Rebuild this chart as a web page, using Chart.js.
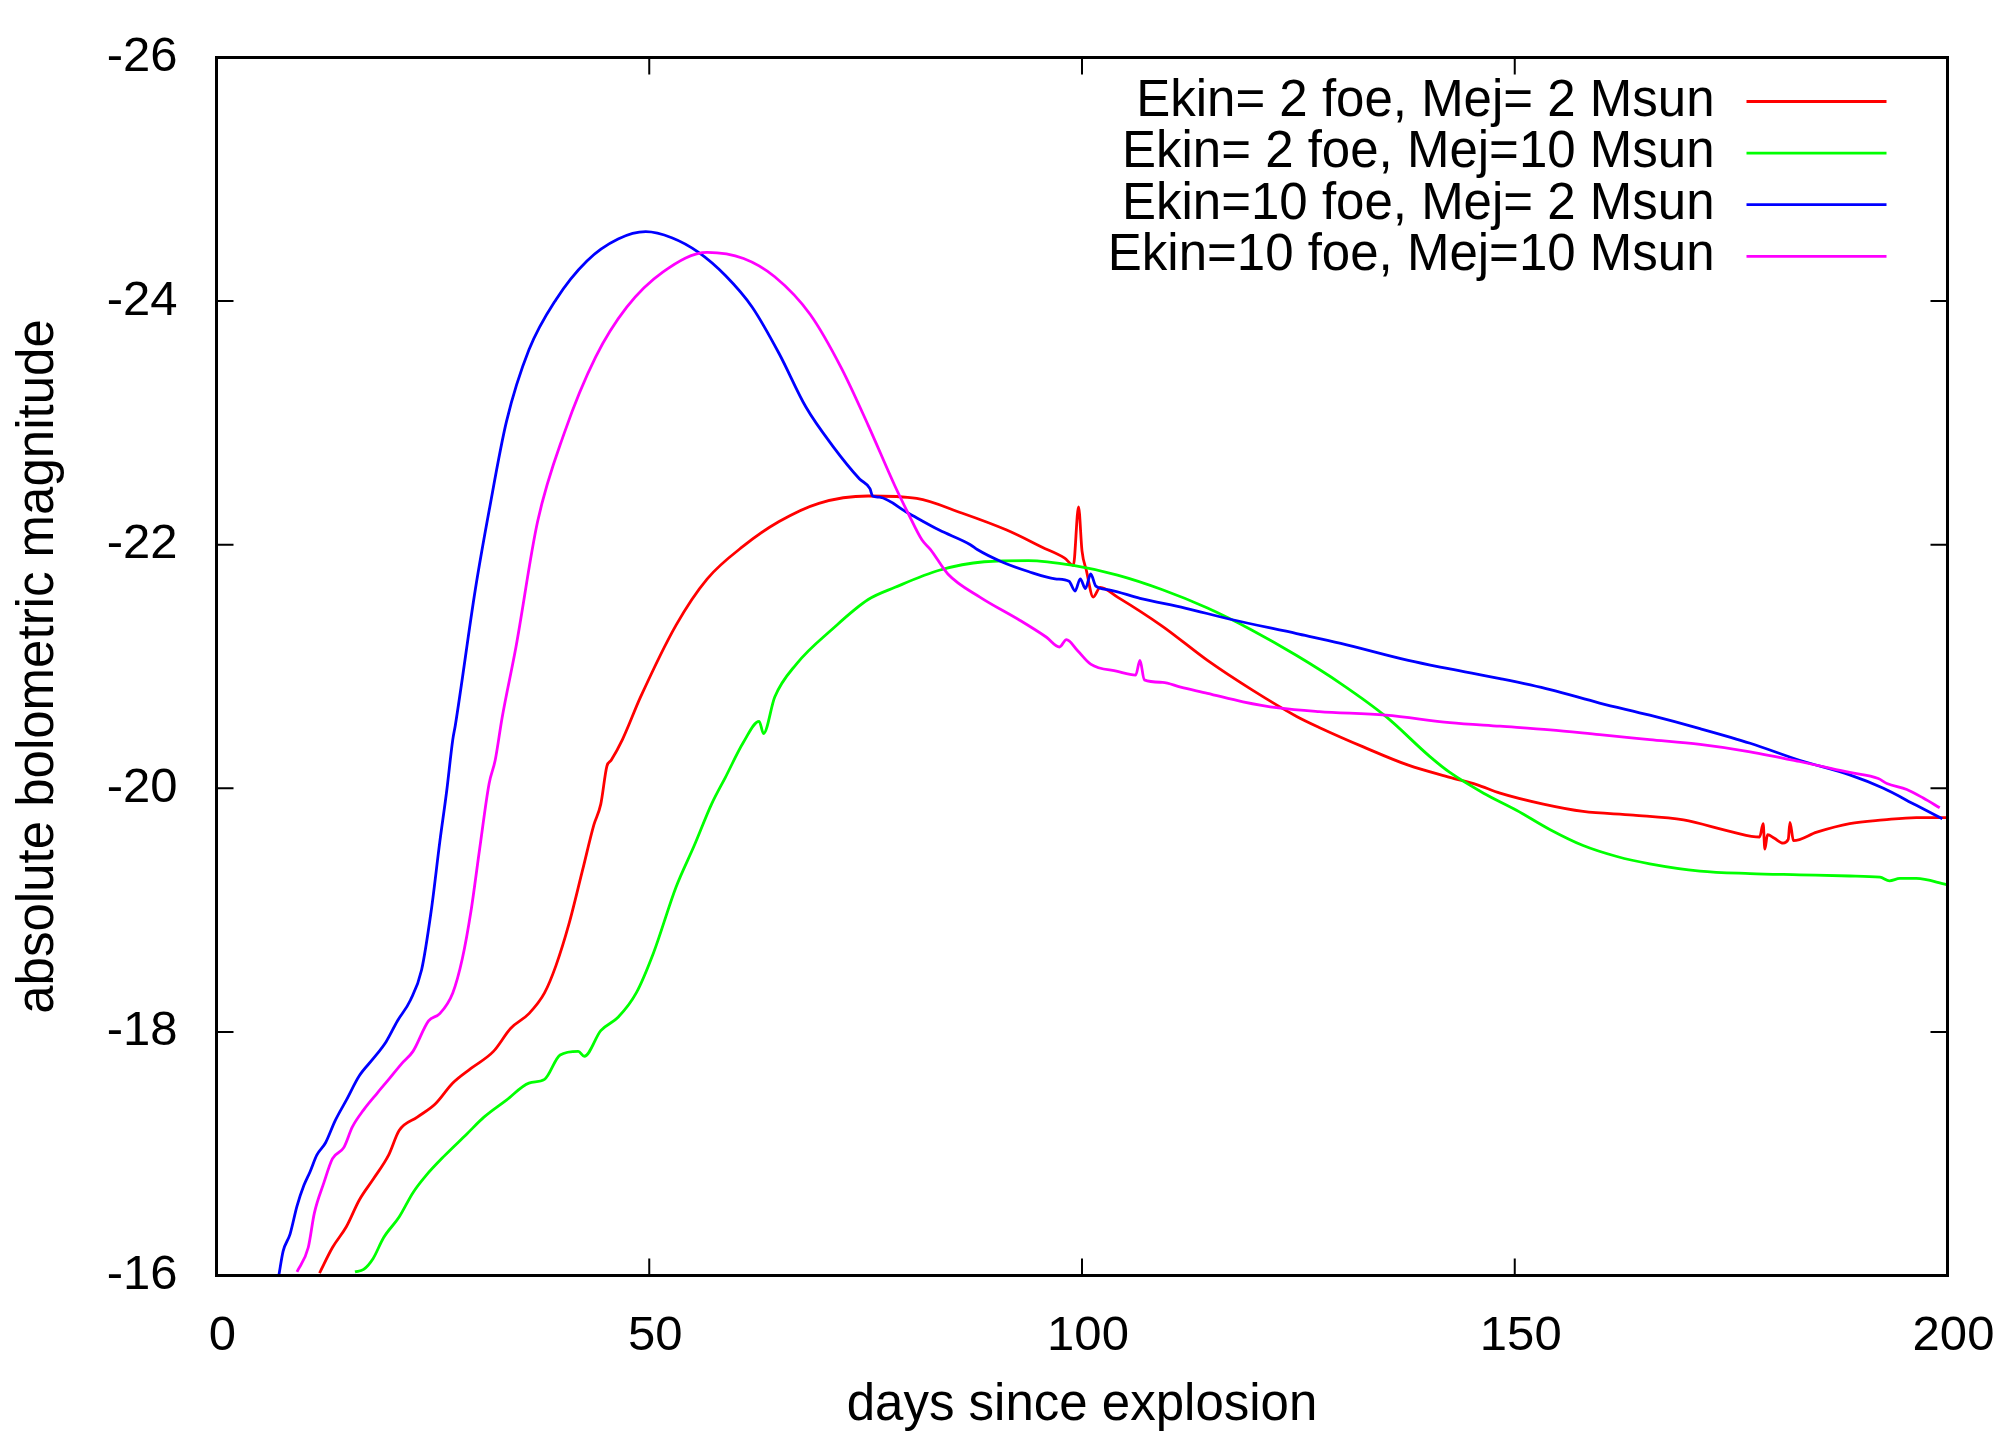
<!DOCTYPE html>
<html lang="en">
<head>
<meta charset="UTF-8" />
<title>Bolometric light curves</title>
<script src="https://cdn.jsdelivr.net/npm/chart.js"></script>
<style>
  body {
    margin: 0;
    background: #fff;
  }
  canvas {
    display: block;
  }
</style>
</head>
<body>

<canvas id="lcChart" width="1996" height="1431"></canvas>

<script>
  // model labels and line colours
  const modelLabels = [
    'Ekin= 2 foe, Mej= 2 Msun',
    'Ekin= 2 foe, Mej=10 Msun',
    'Ekin=10 foe, Mej= 2 Msun',
    'Ekin=10 foe, Mej=10 Msun'
  ];
  const modelColors = ['#ff0000', '#00ff00', '#0000ff', '#ff00ff'];

  // Ekin = 2 foe, Mej = 2 Msun
  const daysE2M2 = [11.9, 13.4, 15, 16.5, 18.1, 19.9, 21.1, 23.2, 25.3, 27.3, 29.4, 32, 34, 36.1, 37.9, 39.2, 40.7, 42.3, 43.6, 44.4,
    45.1, 45.6, 46.9, 49, 53.1, 56.7, 60.9, 65, 69.6, 75.3, 80.9, 86.1, 91.3, 95.4, 98, 99, 99.6, 100, 100.5, 101.3,
    102.1, 104.1, 109.3, 114.5, 119.6, 124.8, 127.4, 132.5, 137.7, 142.5, 145.6, 148.3, 153.3, 157.9, 163.7, 169.5, 175.2, 178.3, 178.7, 178.9,
    179.2, 180, 181, 181.6, 181.8, 182.2, 184.9, 188.7, 192.6, 196.4, 199.9];
  const magE2M2 = [-16.02, -16.23, -16.40, -16.62, -16.79, -16.99, -17.19, -17.30, -17.41, -17.58, -17.70, -17.84, -18.03, -18.15, -18.32, -18.54, -18.88, -19.33, -19.70, -19.87,
    -20.18, -20.23, -20.40, -20.75, -21.34, -21.72, -21.99, -22.19, -22.34, -22.40, -22.38, -22.26, -22.12, -21.98, -21.89, -21.83, -22.31, -21.95, -21.79, -21.57,
    -21.65, -21.57, -21.33, -21.05, -20.81, -20.59, -20.50, -20.34, -20.19, -20.09, -20.03, -19.96, -19.87, -19.81, -19.78, -19.74, -19.64, -19.60, -19.71, -19.50,
    -19.62, -19.59, -19.55, -19.58, -19.72, -19.57, -19.64, -19.71, -19.74, -19.76, -19.76];

  // Ekin = 2 foe, Mej = 10 Msun
  const daysE2M10 = [16, 17, 18.1, 19.3, 21.1, 22.7, 24.2, 26.3, 28.9, 30.9, 33.5, 36.1, 37.9, 39.7, 41.8, 42.5, 44.4, 46.4, 48.5, 50.5,
    53.1, 55.2, 57.2, 58.8, 60.9, 62.7, 63.2, 64.5, 67, 71.2, 75.3, 78.4, 83.5, 88.7, 93.8, 99, 104.1, 109.3, 114.5, 119.6,
    124.8, 129.9, 135.1, 140.2, 142.5, 146.4, 150.2, 154.1, 157.9, 161.8, 165.6, 171.4, 177.2, 182.9, 188.7, 192.2, 193.3, 194.5, 196.4, 199.9];
  const magE2M10 = [-16.03, -16.05, -16.14, -16.31, -16.48, -16.68, -16.82, -16.98, -17.16, -17.30, -17.44, -17.58, -17.61, -17.81, -17.84, -17.80, -18.01, -18.12, -18.32, -18.65,
    -19.19, -19.53, -19.87, -20.09, -20.38, -20.55, -20.45, -20.75, -21.02, -21.31, -21.55, -21.65, -21.79, -21.86, -21.87, -21.83, -21.75, -21.63, -21.48, -21.30,
    -21.09, -20.86, -20.59, -20.26, -20.13, -19.96, -19.82, -19.66, -19.53, -19.44, -19.38, -19.32, -19.30, -19.29, -19.28, -19.27, -19.24, -19.26, -19.26, -19.21];

  // Ekin = 10 foe, Mej = 2 Msun
  const daysE10M2 = [7.2, 7.7, 8.5, 9.3, 10.1, 10.8, 11.6, 12.6, 13.7, 15, 16.5, 18.1, 19.6, 20.9, 22.4, 23.7, 24.8, 25.8, 26.6, 27.3,
    27.6, 29.9, 31.5, 33.5, 36.1, 39.2, 42.8, 46.4, 49.6, 52.6, 55.7, 58.8, 61.9, 65, 68.1, 71.2, 74.3, 75.5, 75.8, 76.6,
    79.9, 83.5, 87.1, 87.9, 90.7, 93.8, 96.9, 98.5, 99.2, 99.8, 100.4, 101, 101.6, 103.1, 106.7, 111.9, 117, 124.8, 129.9, 137.7,
    142.5, 148.3, 154.1, 159.8, 165.6, 171.4, 177.2, 182.9, 188.7, 192.6, 196.4, 199.4];
  const magE10M2 = [-16.0, -16.2, -16.34, -16.57, -16.74, -16.85, -16.99, -17.09, -17.27, -17.44, -17.64, -17.78, -17.92, -18.09, -18.26, -18.51, -18.99, -19.56, -19.98, -20.40,
    -20.52, -21.63, -22.28, -23.01, -23.60, -24.01, -24.33, -24.51, -24.57, -24.52, -24.40, -24.21, -23.95, -23.57, -23.13, -22.81, -22.54, -22.46, -22.40, -22.39,
    -22.26, -22.12, -22.00, -21.96, -21.86, -21.78, -21.72, -21.70, -21.62, -21.72, -21.64, -21.76, -21.66, -21.63, -21.56, -21.48, -21.39, -21.27, -21.19, -21.05,
    -20.98, -20.90, -20.81, -20.70, -20.60, -20.49, -20.37, -20.23, -20.11, -20.00, -19.86, -19.75];

  // Ekin = 10 foe, Mej = 10 Msun
  const daysE10M10 = [9.3, 10.6, 11.3, 12.4, 13.4, 14.7, 15.7, 17, 18.6, 19.9, 21.4, 22.7, 24.5, 25.8, 27.3, 28.4, 29.4, 30.4, 31.5, 32.2,
    33, 34.6, 37.1, 40.2, 43.8, 47.4, 51.6, 56.7, 60.9, 64.5, 68.6, 72.2, 75.3, 78.4, 79.9, 81.5, 82.5, 84.5, 88.2, 92.8,
    95.9, 97.4, 98.2, 99.5, 101, 104.1, 106.2, 106.7, 107.2, 109.3, 111.4, 114.5, 118.6, 122.7, 127.4, 135.1, 142.5, 148.3, 154.1, 159.8,
    165.6, 171.4, 177.2, 182.9, 188.7, 192, 193, 195.3, 197.2, 199.1];
  const magE10M10 = [-16.03, -16.23, -16.51, -16.76, -16.96, -17.05, -17.22, -17.36, -17.50, -17.61, -17.74, -17.84, -18.09, -18.15, -18.32, -18.60, -18.99, -19.50, -20.04, -20.23,
    -20.58, -21.16, -22.19, -22.92, -23.54, -23.95, -24.24, -24.40, -24.35, -24.20, -23.89, -23.45, -22.98, -22.48, -22.26, -22.04, -21.96, -21.76, -21.57, -21.38,
    -21.24, -21.16, -21.22, -21.13, -21.02, -20.96, -20.93, -21.05, -20.89, -20.87, -20.83, -20.78, -20.71, -20.66, -20.63, -20.60, -20.54, -20.51, -20.48, -20.44,
    -20.40, -20.36, -20.30, -20.22, -20.13, -20.08, -20.04, -19.99, -19.92, -19.84];

  const dayList = [daysE2M2, daysE2M10, daysE10M2, daysE10M10];
  const magList = [magE2M2, magE2M10, magE10M2, magE10M10];

  const FONT = "'Liberation Sans', Arial, Helvetica, sans-serif";
  Chart.defaults.font.family = FONT;
  Chart.defaults.color = '#000';

  // gnuplot-like frame: border plus inward ticks mirrored on all four sides
  const framePlugin = {
    id: 'frame',
    afterDatasetsDraw(chart) {
      const { ctx, chartArea: a, scales: { x, y } } = chart;
      const len = 17;
      ctx.save();
      ctx.strokeStyle = '#000';
      ctx.lineWidth = 2;
      ctx.beginPath();
      x.ticks.forEach(t => {
        const px = x.getPixelForValue(t.value);
        ctx.moveTo(px, a.bottom); ctx.lineTo(px, a.bottom - len);
        ctx.moveTo(px, a.top); ctx.lineTo(px, a.top + len);
      });
      y.ticks.forEach(t => {
        const py = y.getPixelForValue(t.value);
        ctx.moveTo(a.left, py); ctx.lineTo(a.left + len, py);
        ctx.moveTo(a.right, py); ctx.lineTo(a.right - len, py);
      });
      ctx.stroke();
      ctx.lineWidth = 3;
      ctx.strokeRect(a.left, a.top, a.right - a.left, a.bottom - a.top);
      ctx.restore();
    }
  };

  // key in the upper right: right-aligned text with the line sample after it
  const keyPlugin = {
    id: 'key',
    afterDraw(chart) {
      const { ctx, chartArea: a } = chart;
      const textRight = a.right - 233;
      const lineStart = a.right - 201;
      const lineEnd = a.right - 61;
      const firstRow = a.top + 44;
      const rowStep = 51.6;
      ctx.save();
      ctx.font = '51px ' + FONT;
      ctx.textAlign = 'right';
      ctx.textBaseline = 'middle';
      chart.data.datasets.forEach((ds, i) => {
        const yRow = firstRow + i * rowStep;
        ctx.fillStyle = '#000';
        ctx.fillText(ds.label, textRight, yRow);
        ctx.strokeStyle = ds.borderColor;
        ctx.lineWidth = 2.8;
        ctx.beginPath();
        ctx.moveTo(lineStart, yRow);
        ctx.lineTo(lineEnd, yRow);
        ctx.stroke();
      });
      ctx.restore();
    }
  };

  const datasets = modelLabels.map((label, i) => ({
    label: label,
    data: dayList[i].map((d, k) => ({ x: d, y: magList[i][k] })),
    borderColor: modelColors[i],
    backgroundColor: modelColors[i],
    borderWidth: 2.8,
    pointRadius: 0,
    cubicInterpolationMode: 'monotone',
    fill: false,
    order: modelLabels.length - i
  }));

  new Chart(document.getElementById('lcChart').getContext('2d'), {
    type: 'line',
    data: { datasets: datasets },
    options: {
      responsive: false,
      devicePixelRatio: 1,
      animation: false,
      layout: { padding: { top: 57.5, right: 48.5, bottom: 0, left: 0 } },
      scales: {
        x: {
          type: 'linear',
          min: 0,
          max: 200,
          grid: { display: false },
          border: { display: false },
          ticks: { stepSize: 50, padding: 24, labelOffset: 6, maxRotation: 0, font: { size: 49 } },
          title: { display: true, text: 'days since explosion', font: { size: 51 }, padding: { top: 0, bottom: -6 } },
          afterFit(s) { s.height = 155.5; s.paddingLeft = 0; s.paddingRight = 0; }
        },
        y: {
          type: 'linear',
          reverse: true,
          min: -26,
          max: -16,
          grid: { display: false },
          border: { display: false },
          ticks: { stepSize: 2, padding: 31, font: { size: 49 } },
          title: { display: true, text: 'absolute bolometric magnitude', font: { size: 51 }, padding: { top: 8, bottom: 0 } },
          afterFit(s) { s.width = 216.5; s.paddingTop = 0; s.paddingBottom = 0; }
        }
      },
      plugins: {
        legend: { display: false },
        tooltip: { enabled: false }
      }
    },
    plugins: [framePlugin, keyPlugin]
  });
</script>

</body>
</html>
